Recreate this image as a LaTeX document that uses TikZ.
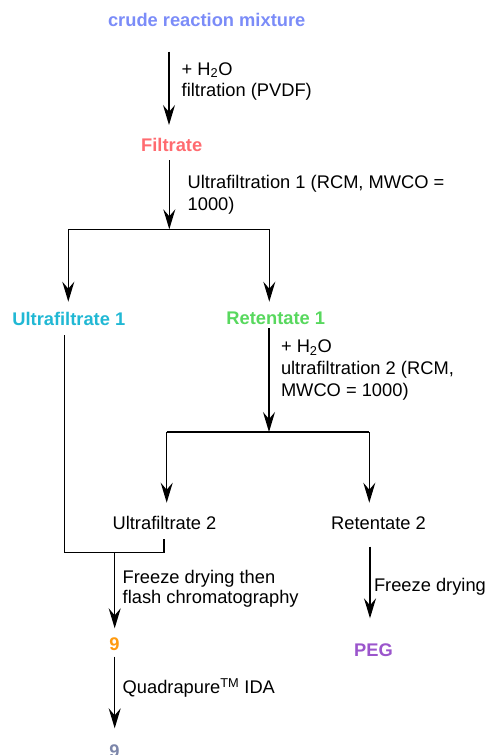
\documentclass[tikz,border=0pt]{standalone}
\usepackage{fontspec}
\setmainfont{Liberation Sans}
\usetikzlibrary{arrows.meta}
\definecolor{cCrude}{HTML}{7B8CF8}
\definecolor{cFiltrate}{HTML}{FF6B70}
\definecolor{cUfOne}{HTML}{21B8D4}
\definecolor{cRetOne}{HTML}{58D85E}
\definecolor{cNine}{HTML}{FF9A0F}
\definecolor{cPeg}{HTML}{9B55CC}
\definecolor{cNineB}{HTML}{7C86AA}
\tikzset{
  every node/.style={inner sep=0pt, outer sep=0pt},
  title/.style={anchor=base, font=\fontsize{18.3}{21.7}\selectfont\bfseries},
  plain/.style={anchor=base, font=\fontsize{18.3}{21.7}\selectfont},
  lbl/.style={anchor=base west, align=left, font=\fontsize{18.3}{21.7}\selectfont},
  ln/.style={line width=1.25pt, line cap=butt, line join=miter},
  arr/.style={ln, -{Stealth[length=20pt,width=12pt,inset=7pt]}}
}
\begin{document}
\begin{tikzpicture}[x=1pt,y=-1pt]
\clip (0,0) rectangle (491,755);
\useasboundingbox (0,0) rectangle (491,755);
% compound nodes
\node[title, text=cCrude] (crude) at (206.7,26.7) {crude reaction mixture};
\node[title, text=cFiltrate] (filtrate) at (171.7,151.7) {Filtrate};
\node[title, text=cUfOne] (ufone) at (68.8,325) {Ultrafiltrate 1};
\node[title, text=cRetOne] (retone) at (275.8,324.3) {Retentate 1};
\node[plain] (uftwo) at (164.5,529.3) {Ultrafiltrate 2};
\node[plain] (rettwo) at (378.5,529.3) {Retentate 2};
\node[title, text=cNine] (nine) at (114.5,650.7) {9};
\node[title, text=cPeg] (peg) at (373.5,656.7) {PEG};
\node[title, text=cNineB] (nineb) at (114.5,757) {9};
% condition labels (anchored at the baseline of their last line)
\node[lbl] (l1) at (181.7,96.7) {+ H\textsubscript{2}O\\filtration (PVDF)};
\node[lbl] (l2) at (187.7,210) {Ultrafiltration 1 (RCM, MWCO =\\1000)};
\node[lbl] (l3) at (281,396) {+ H\textsubscript{2}O\\ultrafiltration 2 (RCM,\\MWCO = 1000)};
\node[lbl, font=\fontsize{18.3}{20}\selectfont] (l4) at (122.7,603.3) {Freeze drying then\\flash chromatography};
\node[lbl] (l5) at (374,591.7) {Freeze drying};
\node[lbl] (l6) at (122.7,693.3) {Quadrapure\textsuperscript{TM} IDA};
% connector points
\coordinate (a1s) at (169,51.7);
\coordinate (a1e) at (169,125);
\coordinate (a2s) at (169.3,160);
\coordinate (s1) at (169.3,229.3);
\coordinate (s1l) at (68.3,229.3);
\coordinate (s1r) at (269.3,229.3);
\coordinate (ufonein) at (68.3,301.7);
\coordinate (retonein) at (269.3,301.7);
\coordinate (ufoneout) at (64.3,335);
\coordinate (j1) at (64.3,552.7);
\coordinate (j2) at (164,552.7);
\coordinate (uftwoout) at (164,539);
\coordinate (j3) at (114.7,552.7);
\coordinate (ninein) at (114.7,628.3);
\coordinate (retoneout) at (269,328.3);
\coordinate (s2) at (269,432);
\coordinate (s2l) at (166.7,432);
\coordinate (s2r) at (369.3,432);
\coordinate (uftwoin) at (166.7,502.7);
\coordinate (rettwoin) at (369.3,502.7);
\coordinate (rettwoout) at (370,546.7);
\coordinate (pegin) at (370,618.3);
\coordinate (nineout) at (114.7,656.7);
\coordinate (ninebin) at (114.7,728.3);
% connectors
\draw[arr] (a1s) -- (a1e);
\draw[arr] (a2s) -- (s1);
\draw[ln] (s1l) -- (s1r);
\draw[arr] (s1l) -- (ufonein);
\draw[arr] (s1r) -- (retonein);
\draw[ln] (ufoneout) -- (j1) -- (j2) -- (uftwoout);
\draw[arr] (j3) -- (ninein);
\draw[arr] (retoneout) -- (s2);
\draw[ln] (s2l) -- (s2r);
\draw[arr] (s2l) -- (uftwoin);
\draw[arr] (s2r) -- (rettwoin);
\draw[arr] (rettwoout) -- (pegin);
\draw[arr] (nineout) -- (ninebin);
\end{tikzpicture}
\end{document}
